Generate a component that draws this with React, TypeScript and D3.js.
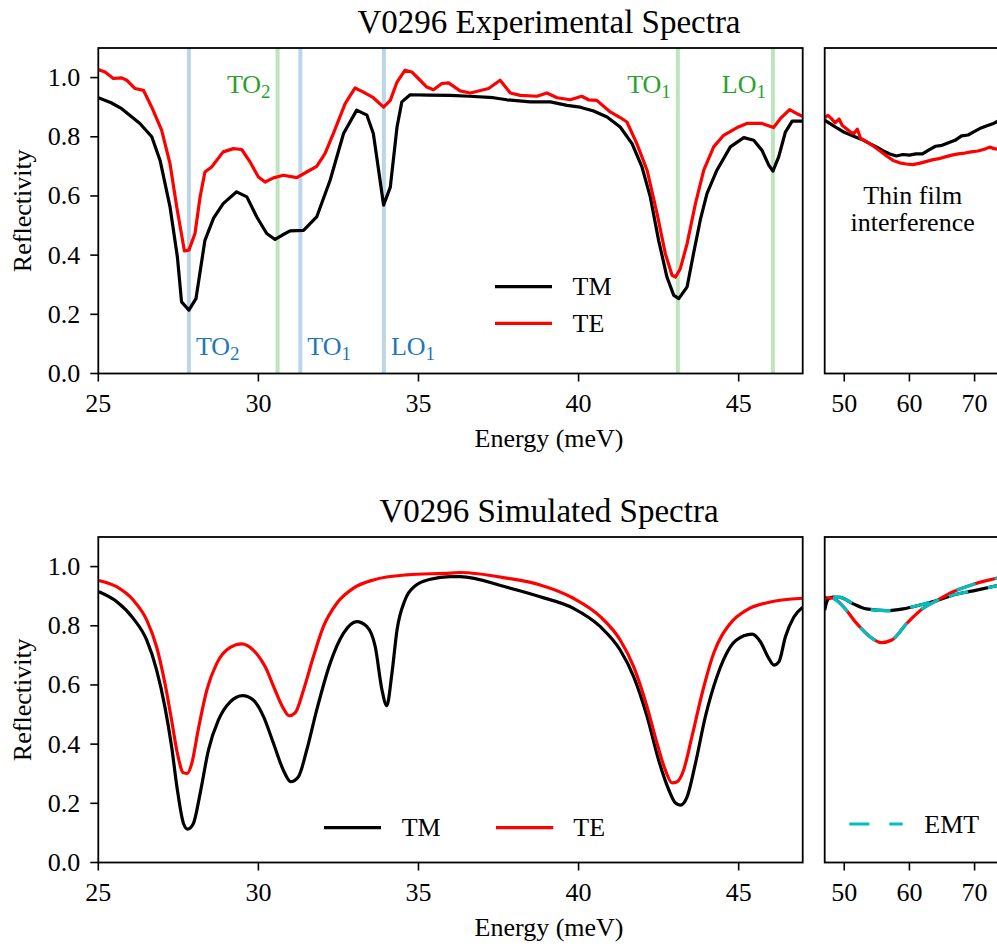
import React from "react";
import * as d3 from "d3";

// ---------- data ----------
const mainTicksX = [25, 30, 35, 40, 45];
const sideTicksX = [50, 60, 70];
const ticksY = [0, 0.2, 0.4, 0.6, 0.8, 1.0];

// Experimental TM (main range)
const expTmE = [25.0, 25.4, 25.73, 26.3, 26.67, 26.93, 27.24, 27.47, 27.6, 27.83, 28.05, 28.33, 28.6, 28.9, 29.32, 29.64, 29.95, 30.26, 30.52, 30.75, 30.99, 31.41, 31.82, 32.24, 32.66, 33.07, 33.39, 33.59, 33.8, 33.91, 34.12, 34.33, 34.48, 34.74, 35.3, 35.99, 36.6, 37.34, 37.76, 38.49, 39.12, 39.64, 40.05, 40.47, 40.89, 41.3, 41.67, 41.98, 42.24, 42.5, 42.76, 42.97, 43.13, 43.39, 43.59, 43.8, 44.01, 44.32, 44.74, 45.16, 45.47, 45.73, 45.94, 46.07, 46.25, 46.46, 46.67, 47.0];
const expTmR = [0.932, 0.915, 0.895, 0.845, 0.8, 0.72, 0.563, 0.394, 0.242, 0.214, 0.253, 0.45, 0.525, 0.574, 0.614, 0.597, 0.529, 0.473, 0.453, 0.468, 0.482, 0.484, 0.529, 0.653, 0.811, 0.89, 0.873, 0.811, 0.653, 0.569, 0.63, 0.833, 0.918, 0.942, 0.941, 0.94, 0.937, 0.932, 0.925, 0.918, 0.918, 0.906, 0.9, 0.887, 0.867, 0.833, 0.777, 0.698, 0.597, 0.45, 0.326, 0.265, 0.253, 0.293, 0.405, 0.518, 0.608, 0.687, 0.766, 0.797, 0.788, 0.754, 0.704, 0.684, 0.732, 0.816, 0.853, 0.853];

// Experimental TE (main range)
const expTeE = [25.0, 25.21, 25.47, 25.73, 25.89, 26.15, 26.41, 26.67, 26.98, 27.24, 27.45, 27.69, 27.83, 28.02, 28.18, 28.33, 28.54, 28.9, 29.22, 29.48, 29.74, 30.0, 30.21, 30.47, 30.78, 31.2, 31.51, 31.82, 32.08, 32.34, 32.71, 33.02, 33.28, 33.59, 33.91, 34.12, 34.33, 34.58, 34.79, 35.05, 35.26, 35.47, 35.73, 35.94, 36.3, 36.62, 37.19, 37.55, 37.87, 38.18, 38.7, 39.01, 39.33, 39.74, 40.1, 40.31, 40.57, 40.99, 41.3, 41.51, 41.82, 42.14, 42.45, 42.71, 42.92, 43.03, 43.18, 43.39, 43.65, 43.91, 44.22, 44.53, 44.95, 45.26, 45.73, 46.09, 46.3, 46.59, 46.82, 47.0];
const expTeR = [1.027, 1.019, 0.997, 0.999, 0.991, 0.963, 0.957, 0.9, 0.822, 0.709, 0.563, 0.414, 0.417, 0.473, 0.597, 0.681, 0.698, 0.749, 0.76, 0.757, 0.715, 0.664, 0.647, 0.661, 0.67, 0.662, 0.681, 0.7, 0.743, 0.811, 0.912, 0.965, 0.951, 0.932, 0.9, 0.923, 0.985, 1.025, 1.019, 0.991, 0.968, 0.959, 0.98, 0.982, 0.955, 0.948, 0.963, 0.991, 0.948, 0.94, 0.937, 0.948, 0.932, 0.925, 0.937, 0.925, 0.923, 0.884, 0.865, 0.85, 0.777, 0.687, 0.541, 0.405, 0.332, 0.326, 0.355, 0.439, 0.574, 0.687, 0.766, 0.805, 0.831, 0.845, 0.845, 0.831, 0.861, 0.892, 0.878, 0.869];

// Experimental, thin film range
const expSideTmE = [47, 48, 49, 50, 51, 52, 53, 54, 55, 56, 57, 58, 59, 60, 61, 62, 63, 64, 65, 66, 67, 68, 69, 70, 71, 72, 73, 73.9];
const expSideTmR = [0.856, 0.842, 0.828, 0.815, 0.806, 0.797, 0.788, 0.776, 0.765, 0.752, 0.742, 0.735, 0.74, 0.738, 0.742, 0.742, 0.756, 0.768, 0.771, 0.78, 0.788, 0.803, 0.806, 0.818, 0.83, 0.838, 0.846, 0.857];
const expSideTeE = [47, 47.5, 48, 48.6, 49.2, 49.7, 50.3, 51, 51.5, 52, 52.5, 53.5, 54.5, 55.5, 56.5, 57.5, 58.5, 59.5, 60.5, 61.5, 62.5, 63.5, 64.5, 65.5, 66.5, 67.5, 68.5, 69.5, 70.5, 71.5, 72.3, 73, 73.9];
const expSideTeR = [0.865, 0.872, 0.862, 0.847, 0.86, 0.838, 0.828, 0.815, 0.811, 0.826, 0.795, 0.782, 0.768, 0.752, 0.735, 0.72, 0.712, 0.708, 0.706, 0.71, 0.716, 0.722, 0.726, 0.732, 0.738, 0.742, 0.745, 0.749, 0.752, 0.758, 0.765, 0.76, 0.757];

// Simulated TM (main range)
const simTmE = [25.02, 25.57, 26.09, 26.51, 26.82, 27.08, 27.29, 27.47, 27.66, 27.79, 27.97, 28.18, 28.44, 28.75, 29.12, 29.51, 29.84, 30.16, 30.47, 30.78, 31.01, 31.25, 31.51, 31.82, 32.24, 32.66, 33.07, 33.39, 33.65, 33.86, 34.01, 34.17, 34.33, 34.58, 34.9, 35.37, 35.99, 36.3, 37.76, 38.8, 39.84, 40.68, 41.3, 41.72, 42.14, 42.5, 42.82, 43.02, 43.18, 43.39, 43.65, 43.96, 44.32, 44.74, 45.16, 45.42, 45.68, 45.94, 46.1, 46.26, 46.46, 46.72, 47.0];
const simTmR = [0.915, 0.882, 0.825, 0.752, 0.651, 0.526, 0.391, 0.245, 0.132, 0.113, 0.132, 0.233, 0.38, 0.481, 0.543, 0.564, 0.549, 0.493, 0.403, 0.312, 0.273, 0.29, 0.38, 0.515, 0.673, 0.775, 0.814, 0.797, 0.729, 0.583, 0.53, 0.639, 0.786, 0.887, 0.935, 0.957, 0.966, 0.966, 0.93, 0.898, 0.859, 0.797, 0.718, 0.628, 0.493, 0.346, 0.245, 0.202, 0.194, 0.222, 0.335, 0.493, 0.628, 0.729, 0.766, 0.772, 0.746, 0.69, 0.667, 0.679, 0.763, 0.829, 0.863];

// Simulated TE (main range)
const simTeE = [25.02, 25.57, 26.09, 26.51, 26.82, 27.08, 27.29, 27.47, 27.66, 27.78, 27.92, 28.12, 28.39, 28.7, 29.12, 29.48, 29.84, 30.21, 30.52, 30.78, 30.96, 31.15, 31.41, 31.72, 32.03, 32.45, 32.97, 33.59, 34.63, 35.99, 36.3, 37.76, 38.8, 39.84, 40.68, 41.3, 41.72, 42.14, 42.45, 42.71, 42.92, 43.08, 43.28, 43.54, 43.86, 44.22, 44.74, 45.26, 45.89, 47.0];
const simTeR = [0.953, 0.932, 0.887, 0.82, 0.729, 0.606, 0.481, 0.369, 0.303, 0.301, 0.335, 0.448, 0.583, 0.673, 0.727, 0.739, 0.718, 0.662, 0.583, 0.521, 0.496, 0.506, 0.583, 0.696, 0.797, 0.876, 0.927, 0.955, 0.972, 0.978, 0.98, 0.961, 0.938, 0.893, 0.831, 0.752, 0.662, 0.526, 0.403, 0.312, 0.269, 0.273, 0.312, 0.425, 0.572, 0.707, 0.808, 0.854, 0.878, 0.893];

// Simulated, thin film range
const simSideTmE = [47, 47.3, 47.6, 48.3, 49.35, 51.4, 53.4, 56.5, 59.05, 61.6, 64.2, 66.7, 69.8, 73.9];
const simSideTmR = [0.853, 0.88, 0.891, 0.897, 0.896, 0.874, 0.857, 0.851, 0.857, 0.87, 0.885, 0.904, 0.918, 0.938];
const simSideTeE = [47, 48.3, 49.85, 51.9, 53.95, 55.7, 57.3, 59.6, 62.1, 64.2, 66.7, 69.8, 73.9];
const simSideTeR = [0.895, 0.893, 0.865, 0.808, 0.763, 0.743, 0.752, 0.808, 0.859, 0.885, 0.915, 0.94, 0.963];

// EMT (coincides with the simulated curves in thin film range)
const emtTmE = [48.3, 49.35, 51.4, 53.4, 56.5, 59.05, 61.6, 64.2, 66.7, 69.8, 73.9];
const emtTmR = [0.897, 0.896, 0.874, 0.857, 0.851, 0.857, 0.87, 0.885, 0.904, 0.918, 0.938];
const emtTeE = [48.3, 49.85, 51.9, 53.95, 55.7, 57.3, 59.6, 62.1, 64.2, 66.7, 69.8, 73.9];
const emtTeR = [0.893, 0.865, 0.808, 0.763, 0.743, 0.752, 0.808, 0.859, 0.885, 0.915, 0.94, 0.963];

// Phonon markers
const blueModes = [
  { e: 27.83, name: "TO", sub: "2" },
  { e: 31.31, name: "TO", sub: "1" },
  { e: 33.92, name: "LO", sub: "1" },
];
const greenModes = [
  { e: 30.6, name: "TO", sub: "2" },
  { e: 43.1, name: "TO", sub: "1" },
  { e: 46.07, name: "LO", sub: "1" },
];

// ---------- layout ----------
const W = 997;
const H = 947;
const FONT = "Liberation Serif";
const FS = 26;
const BLUE = "#1f77b4";
const GREEN = "#2ca02c";
const CYAN = "#00bfbf";
const LW = 3.2;

const mainL = 98.3, mainR = 802.7, sideL = 824.7, sideR = 1000;
const rows = [
  { top: 48, bottom: 373.5 },
  { top: 537, bottom: 862.5 },
];

const xMain = d3.scaleLinear().domain([25, 47]).range([mainL, mainR]);
const xSide = d3.scaleLinear().domain([47, 73.9]).range([sideL, sideR]);
const fmt = d3.format(".1f");

function path(xs: number[], ys: number[], x: any, y: any, curve: any) {
  const pts = xs.map((e, i) => [e, ys[i]] as [number, number]);
  return d3.line<[number, number]>().x((d) => x(d[0])).y((d) => y(d[1])).curve(curve)(pts) || "";
}

const txt = { fontFamily: FONT, fontSize: FS } as React.CSSProperties;

function Axes({ row, y, idx }: { row: any; y: any; idx: number }) {
  const b = row.bottom;
  return (
    <g>
      <rect x={mainL} y={row.top} width={mainR - mainL} height={b - row.top} fill="none" stroke="#000" strokeWidth={1.8} />
      <rect x={sideL} y={row.top} width={sideR - sideL} height={b - row.top} fill="none" stroke="#000" strokeWidth={1.8} />
      {ticksY.map((t) => (
        <g key={"y" + t}>
          <line x1={mainL - 8} x2={mainL} y1={y(t)} y2={y(t)} stroke="#000" strokeWidth={1.6} />
          <text x={mainL - 18} y={y(t)} textAnchor="end" dominantBaseline="central" style={txt}>{fmt(t)}</text>
        </g>
      ))}
      {mainTicksX.map((t) => (
        <g key={"xm" + t}>
          <line x1={xMain(t)} x2={xMain(t)} y1={b} y2={b + 8} stroke="#000" strokeWidth={1.6} />
          <text x={xMain(t)} y={b + 38} textAnchor="middle" style={txt}>{t}</text>
        </g>
      ))}
      {sideTicksX.map((t) => (
        <g key={"xs" + t}>
          <line x1={xSide(t)} x2={xSide(t)} y1={b} y2={b + 8} stroke="#000" strokeWidth={1.6} />
          <text x={xSide(t)} y={b + 38} textAnchor="middle" style={txt}>{t}</text>
        </g>
      ))}
      <text x={549} y={b + 73.5} textAnchor="middle" style={txt}>Energy (meV)</text>
      <text transform={`translate(31,${(row.top + b) / 2}) rotate(-90)`} textAnchor="middle" style={txt}>Reflectivity</text>
      <text x={549} y={row.top - 15} textAnchor="middle" style={{ fontFamily: FONT, fontSize: 33 }}>
        {idx === 0 ? "V0296 Experimental Spectra" : "V0296 Simulated Spectra"}
      </text>
    </g>
  );
}

export default function App() {
  const yTop = d3.scaleLinear().domain([0, 1.1]).range([rows[0].bottom, rows[0].top]);
  const yBot = d3.scaleLinear().domain([0, 1.1]).range([rows[1].bottom, rows[1].top]);
  const lin = d3.curveLinear;
  const smooth = d3.curveMonotoneX;

  return (
    <div style={{ position: "absolute", left: 0, top: 0 }}>
      <svg width={W} height={H} viewBox={`0 0 ${W} ${H}`} style={{ display: "block", background: "#fff" }}>
        <defs>
          <clipPath id="cm0"><rect x={mainL} y={rows[0].top} width={mainR - mainL} height={rows[0].bottom - rows[0].top} /></clipPath>
          <clipPath id="cs0"><rect x={sideL} y={rows[0].top} width={sideR - sideL} height={rows[0].bottom - rows[0].top} /></clipPath>
          <clipPath id="cm1"><rect x={mainL} y={rows[1].top} width={mainR - mainL} height={rows[1].bottom - rows[1].top} /></clipPath>
          <clipPath id="cs1"><rect x={sideL} y={rows[1].top} width={sideR - sideL} height={rows[1].bottom - rows[1].top} /></clipPath>
        </defs>
        <rect x={0} y={0} width={W} height={H} fill="#fff" />

        {/* ---- Top row ---- */}
        <g clipPath="url(#cm0)">
          {blueModes.map((m) => (
            <line key={"b" + m.e} x1={xMain(m.e)} x2={xMain(m.e)} y1={rows[0].top} y2={rows[0].bottom} stroke={BLUE} strokeOpacity={0.3} strokeWidth={4} />
          ))}
          {greenModes.map((m) => (
            <line key={"g" + m.e} x1={xMain(m.e)} x2={xMain(m.e)} y1={rows[0].top} y2={rows[0].bottom} stroke={GREEN} strokeOpacity={0.3} strokeWidth={4} />
          ))}
          <path d={path(expTmE, expTmR, xMain, yTop, lin)} fill="none" stroke="#000" strokeWidth={LW} strokeLinejoin="round" />
          <path d={path(expTeE, expTeR, xMain, yTop, lin)} fill="none" stroke="#f00" strokeWidth={LW} strokeLinejoin="round" />
        </g>
        {blueModes.map((m) => (
          <text key={"bt" + m.e} x={xMain(m.e) + 7} y={yTop(0.062)} style={{ ...txt, fill: BLUE }}>
            {m.name}<tspan dy={5} style={{ fontSize: 19 }}>{m.sub}</tspan>
          </text>
        ))}
        {greenModes.map((m) => (
          <text key={"gt" + m.e} x={xMain(m.e) - 7} y={yTop(0.949)} textAnchor="end" style={{ ...txt, fill: GREEN }}>
            {m.name}<tspan dy={5} style={{ fontSize: 19 }}>{m.sub}</tspan>
          </text>
        ))}
        <g clipPath="url(#cs0)">
          <path d={path(expSideTmE, expSideTmR, xSide, yTop, lin)} fill="none" stroke="#000" strokeWidth={LW} strokeLinejoin="round" />
          <path d={path(expSideTeE, expSideTeR, xSide, yTop, lin)} fill="none" stroke="#f00" strokeWidth={LW} strokeLinejoin="round" />
        </g>
        <text x={xSide(60.5)} y={204} textAnchor="middle" style={txt}>Thin film</text>
        <text x={xSide(60.5)} y={230.5} textAnchor="middle" style={txt}>interference</text>
        <line x1={495} x2={552} y1={286.7} y2={286.7} stroke="#000" strokeWidth={LW} />
        <text x={572.5} y={286.7} dominantBaseline="central" style={txt}>TM</text>
        <line x1={495} x2={552} y1={323.3} y2={323.3} stroke="#f00" strokeWidth={LW} />
        <text x={572.5} y={323.3} dominantBaseline="central" style={txt}>TE</text>
        <Axes row={rows[0]} y={yTop} idx={0} />

        {/* ---- Bottom row ---- */}
        <g clipPath="url(#cm1)">
          <path d={path(simTmE, simTmR, xMain, yBot, smooth)} fill="none" stroke="#000" strokeWidth={LW} strokeLinejoin="round" />
          <path d={path(simTeE, simTeR, xMain, yBot, smooth)} fill="none" stroke="#f00" strokeWidth={LW} strokeLinejoin="round" />
        </g>
        <g clipPath="url(#cs1)">
          <path d={path(simSideTmE, simSideTmR, xSide, yBot, smooth)} fill="none" stroke="#000" strokeWidth={LW} strokeLinejoin="round" />
          <path d={path(simSideTeE, simSideTeR, xSide, yBot, smooth)} fill="none" stroke="#f00" strokeWidth={LW} strokeLinejoin="round" />
          <path d={path(emtTmE, emtTmR, xSide, yBot, smooth)} fill="none" stroke={CYAN} strokeWidth={LW} strokeDasharray="20,20" />
          <path d={path(emtTeE, emtTeR, xSide, yBot, smooth)} fill="none" stroke={CYAN} strokeWidth={LW} strokeDasharray="20,20" />
        </g>
        <line x1={324} x2={381} y1={827.7} y2={827.7} stroke="#000" strokeWidth={LW} />
        <text x={401.7} y={827.7} dominantBaseline="central" style={txt}>TM</text>
        <line x1={496} x2={553.3} y1={827.7} y2={827.7} stroke="#f00" strokeWidth={LW} />
        <text x={573.3} y={827.7} dominantBaseline="central" style={txt}>TE</text>
        <line x1={849.3} x2={902.7} y1={824} y2={824} stroke={CYAN} strokeWidth={LW} strokeDasharray="20,20" />
        <text x={924.3} y={824} dominantBaseline="central" style={txt}>EMT</text>
        <Axes row={rows[1]} y={yBot} idx={1} />
      </svg>
    </div>
  );
}
